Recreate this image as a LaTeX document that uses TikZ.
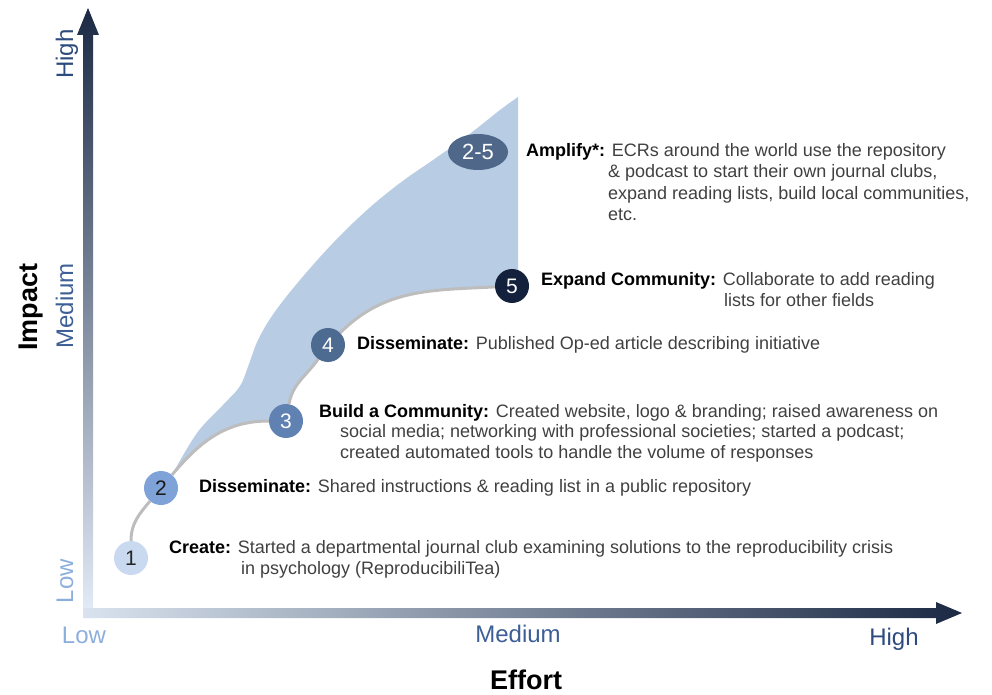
\documentclass[tikz,border=0pt]{standalone}
\usepackage{fontspec}
\setmainfont{Liberation Sans}
\usetikzlibrary{shapes.geometric}
\definecolor{axlight}{HTML}{E4EDF9}
\definecolor{axlightb}{HTML}{D9E3EF}
\definecolor{axdark}{HTML}{1B2944}
\definecolor{lvhigh}{HTML}{2D4B7E}
\definecolor{lvmed}{HTML}{3D5F96}
\definecolor{lvlow}{HTML}{8CAEDD}
\definecolor{areafill}{HTML}{B8CCE4}
\definecolor{pathgrey}{HTML}{BDBDBD}
\definecolor{bodygrey}{HTML}{404040}
\definecolor{cone}{HTML}{C9D9F0}
\definecolor{ctwo}{HTML}{7FA3D8}
\definecolor{cthree}{HTML}{5F82B3}
\definecolor{cfour}{HTML}{4D6A90}
\definecolor{cfive}{HTML}{13213D}
\definecolor{camp}{HTML}{4F6788}
\begin{document}
\begin{tikzpicture}[x=1pt,y=1pt,
  stage/.style={circle, minimum size=34pt, inner sep=0pt, font=\fontsize{21}{21}\selectfont},
  txt/.style={anchor=base west, inner sep=0pt, font=\fontsize{18}{21}\selectfont, text=bodygrey},
  lvl/.style={inner sep=0pt, font=\fontsize{24}{24}\selectfont},
  axname/.style={inner sep=0pt, font=\fontsize{27}{27}\selectfont\bfseries, text=black},
  gline/.style={draw=pathgrey, line width=3pt}
]
\useasboundingbox (0,0) rectangle (992,694);

% axes
\shade[bottom color=axlight, top color=axdark]
  (83,76) -- (83,659) -- (77,659) -- (88,686) -- (99,659) -- (93,659) -- (93,76) -- cycle;
\shade[left color=axlightb, right color=axdark]
  (83,76) -- (936,76) -- (936,70) -- (962,81) -- (936,92) -- (936,86) -- (83,86) -- cycle;

% axis labels
\node[lvl, text=lvhigh, rotate=90, anchor=base] (vhigh) at (73,640) {High};
\node[lvl, text=lvmed, rotate=90, anchor=base] (vmed) at (73,388) {Medium};
\node[lvl, text=lvlow, rotate=90, anchor=base] (vlow) at (73,113) {Low};
\node[axname, rotate=90, anchor=base] (impact) at (37,387) {Impact};
\node[lvl, text=lvlow, anchor=base] (hlow) at (84,51) {Low};
\node[lvl, text=lvmed, anchor=base] (hmed) at (518,52) {Medium};
\node[lvl, text=lvhigh, anchor=base] (hhigh) at (894,49) {High};
\node[axname, anchor=base] (effort) at (526,5) {Effort};

% stage node positions
\coordinate (p1) at (131,136);
\coordinate (p2) at (161,206);
\coordinate (p3) at (286,273);
\coordinate (p4) at (328,349);
\coordinate (p5) at (512,408);

% invisible placeholders so that the area can use the node borders
\path (p1) node[stage] (c1) {} (p2) node[stage] (c2) {} (p3) node[stage] (c3) {}
      (p4) node[stage] (c4) {} (p5) node[stage] (c5) {};

% amplified area
\fill[areafill]
  plot[smooth, tension=0.6] coordinates {(c2.50) (197,261) (223,289) (240,308) (249,330) (258,354) (274,381)
     (300,414) (333,451) (367,484) (400,511) (433,534) (467,558) (500,584) (518,597)}
  -- (518,408) -- (c5.183) to[out=183,in=45] (c4.45) -- (c4.235) to[out=235,in=80] (c3.80)
  -- (c3.180) to[out=180,in=50] (c2.50) -- cycle;

% path
\draw[gline] (c1) to[out=90,in=230] (c2);
\draw[gline] (c2) to[out=50,in=180] (c3);
\draw[gline] (c3) to[out=80,in=235] (c4);
\draw[gline] (c4) to[out=45,in=183] (c5);

% stages
\node[stage, fill=cone, text=black!85] at (p1) {1};
\node[stage, fill=ctwo, text=black!90] at (p2) {2};
\node[stage, fill=cthree, text=white] at (p3) {3};
\node[stage, fill=cfour, text=white] at (p4) {4};
\node[stage, fill=cfive, text=white] at (p5) {5};
\node[ellipse, minimum width=60pt, minimum height=36pt, inner sep=0pt, fill=camp, text=white,
      font=\fontsize{22}{22}\selectfont] (c25) at (478,542) {2-5};

% descriptions
\newcommand\lbl[1]{{\color{black}\bfseries #1}}
\node[txt] (a1) at (526,537) {\lbl{Amplify*:} ECRs around the world use the repository};
\node[txt] (a2) at (608,516) {\& podcast to start their own journal clubs,};
\node[txt] (a3) at (608,494) {expand reading lists, build local communities,};
\node[txt] (a4) at (608,473) {etc.};

\node[txt] (e1) at (541,408) {\lbl{Expand Community:} Collaborate to add reading};
\node[txt] (e2) at (724,387) {lists for other fields};

\node[txt] (d4) at (357,344) {\lbl{Disseminate:} Published Op-ed article describing initiative};

\node[txt] (b1) at (319,277) {\lbl{Build a Community:} Created website, logo \& branding; raised awareness on};
\node[txt] (b2) at (340,257) {social media; networking with professional societies; started a podcast;};
\node[txt] (b3) at (340,236) {created automated tools to handle the volume of responses};

\node[txt] (d2) at (199,202) {\lbl{Disseminate:} Shared instructions \& reading list in a public repository};

\node[txt] (k1) at (169,141) {\lbl{Create:} Started a departmental journal club examining solutions to the reproducibility crisis};
\node[txt] (k2) at (241,120) {in psychology (ReproducibiliTea)};
\end{tikzpicture}
\end{document}
